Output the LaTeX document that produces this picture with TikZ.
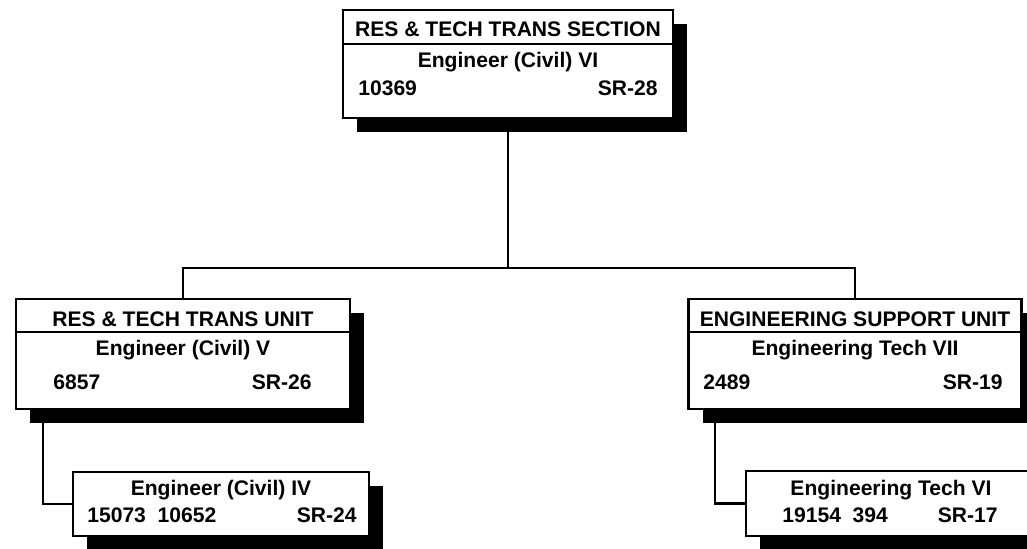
\documentclass[tikz,border=0pt]{standalone}
\usepackage{fontspec}
\setmainfont{Liberation Sans}
\usetikzlibrary{shadows}

\tikzset{
  unitbox/.style={draw,line width=1.4pt,fill=white,inner sep=0pt,
    drop shadow={shadow xshift=0.28cm,shadow yshift=-0.28cm,opacity=1,fill=black}},
  link/.style={line width=1.4pt},
  lbl/.style={inner sep=0pt,font=\bfseries\fontsize{12}{14}\selectfont}
}

\begin{document}
\begin{tikzpicture}[x=0.02cm,y=-0.02cm]
 \clip (0,0) rectangle (1027,548);
 \useasboundingbox (0,0) rectangle (1027,548);
 % boxes
 \node[unitbox,minimum width=6.6cm,minimum height=2.16cm] (sect) at (508,64) {};
 \node[unitbox,minimum width=6.68cm,minimum height=2.2cm] (rtu) at (183,354) {};
 \node[unitbox,minimum width=6.66cm,minimum height=2.2cm] (esu) at (855,354) {};
 \node[unitbox,minimum width=5.92cm,minimum height=1.28cm] (rtusub) at (221,504) {};
 \node[unitbox,minimum width=5.76cm,minimum height=1.3cm] (esusub) at (890,503.5) {};
 \draw[link] ([yshift=-0.7cm]sect.north west) -- ([yshift=-0.7cm]sect.north east);
 \draw[link] ([yshift=-0.68cm]rtu.north west) -- ([yshift=-0.68cm]rtu.north east);
 \draw[link] ([yshift=-0.68cm]esu.north west) -- ([yshift=-0.68cm]esu.north east);
 % connectors
 \coordinate (bus) at (508,268);
 \coordinate (rtudrop) at (43,409);
 \coordinate (esudrop) at (715,409);
 \draw[link] (sect.south) -- (bus);
 \draw[link] (rtu.north) -- (rtu.north |- bus) -- (esu.north |- bus) -- (esu.north);
 \draw[link] (rtudrop) |- (rtusub.west);
 \draw[link] (esudrop) |- (esusub.west);
 % texts
 \node[lbl] (sectname) at (508,29) {RES \& TECH TRANS SECTION};
 \node[lbl] (secttitle) at (508,62) {Engineer (Civil) VI};
 \node[lbl,anchor=west] (sectnum) at (358,88) {10369};
 \node[lbl,anchor=east] (sectsr) at (658,88) {SR-28};
 \node[lbl] (rtuname) at (183,319) {RES \& TECH TRANS UNIT};
 \node[lbl] (rtutitle) at (183,350) {Engineer (Civil) V};
 \node[lbl,anchor=west] (rtunum) at (53,382) {6857};
 \node[lbl,anchor=east] (rtusr) at (312,382) {SR-26};
 \node[lbl] (rtusubtitle) at (221,490) {Engineer (Civil) IV};
 \node[lbl,anchor=west] (rtusubnum) at (87,515) {15073\ \ 10652};
 \node[lbl,anchor=east] (rtusubsr) at (357,515) {SR-24};
 \node[lbl] (esuname) at (855,319) {ENGINEERING SUPPORT UNIT};
 \node[lbl] (esutitle) at (855,350) {Engineering Tech VII};
 \node[lbl,anchor=west] (esunum) at (703,382) {2489};
 \node[lbl,anchor=east] (esusr) at (1003,382) {SR-19};
 \node[lbl] (esusubtitle) at (891,490) {Engineering Tech VI};
 \node[lbl,anchor=west] (esusubnum) at (782,515) {19154\ \ 394};
 \node[lbl,anchor=east] (esusubsr) at (998,515) {SR-17};
\end{tikzpicture}
\end{document}
